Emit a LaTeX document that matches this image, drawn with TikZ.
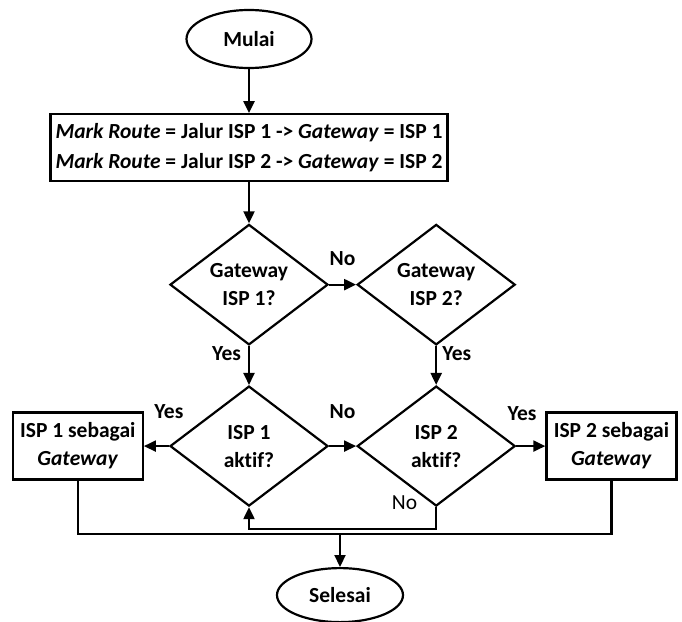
\documentclass[tikz,border=0pt]{standalone}
\usepackage{fontspec}
\setmainfont{Carlito}[Ligatures=NoCommon]
\usetikzlibrary{arrows.meta}
\usetikzlibrary{positioning,shapes}

\newcommand{\chartsize}{\fontsize{21.5}{28}\selectfont}

\begin{document}
\begin{tikzpicture}[%
        x=1pt, y=1pt,
        every node/.style={font=\chartsize\bfseries, align=center, inner sep=2pt},
        terminal/.style={draw, ellipse, minimum width=125pt, minimum height=58pt},
        process/.style={draw, rectangle, minimum width=130pt, minimum height=67pt},
        decision/.style={draw, diamond, minimum width=158pt, minimum height=118pt, inner sep=0pt},
        lbl/.style={inner sep=1pt},
        line width=2.2pt,
        >={Triangle[length=12pt,width=11pt]}
      ]
      \useasboundingbox (0,0) rectangle (682,-621);
      \node (mulai) [terminal] at (249,-39) {Mulai};
      \node (mark) [process, minimum width=397pt, below=44pt of mulai,
                    font=\fontsize{21.5}{30}\selectfont\bfseries]
            {\textit{Mark Route} = Jalur ISP 1 -> \textit{Gateway} = ISP 1\\
             \textit{Mark Route} = Jalur ISP 2 -> \textit{Gateway} = ISP 2};
      \node (gw1) [decision, below=41pt of mark] {Gateway\\ISP 1?};
      \node (gw2) [decision, right=27pt of gw1] {Gateway\\ISP 2?};
      \node (akt1) [decision, minimum height=120pt, below=39pt of gw1] {ISP 1\\aktif?};
      \node (akt2) [decision, minimum height=120pt, below=39pt of gw2] {ISP 2\\aktif?};
      \node (isp1) [process, left=25pt of akt1] {ISP 1 sebagai\\\textit{Gateway}};
      \node (isp2) [process, right=29pt of akt2] {ISP 2 sebagai\\\textit{Gateway}};
      \coordinate (join) at (340,-534);
      \node (selesai) [terminal, minimum width=126pt, minimum height=54pt, below=33pt of join] {Selesai};

      \draw [->] (mulai) -- (mark);
      \draw [->] (mark) -- (gw1);
      \draw [->] (gw1) -- node [lbl, above=17pt] {No} (gw2);
      \draw [->] (gw1) -- node [lbl, left=6pt, pos=0.2] {Yes} (akt1);
      \draw [->] (gw2) -- node [lbl, right=4pt, pos=0.2] {Yes} (akt2);
      \draw [->] (akt1) -- node [lbl, above=25pt, pos=0] {Yes} (isp1);
      \draw [->] (akt1) -- node [lbl, above=25pt] {No} (akt2);
      \draw [->] (akt2) -- node [lbl, above=23pt, pos=0.2] {Yes} (isp2);
      \draw [->] (akt2.south) -- ++(0,-22) node [lbl, pos=0, left=17pt, yshift=4pt, font=\chartsize] {No} -| (akt1.south);
      \draw (isp1.south) |- (join) -| (isp2.south);
      \draw [->] (join) -- (selesai);
    \end{tikzpicture}
\end{document}
